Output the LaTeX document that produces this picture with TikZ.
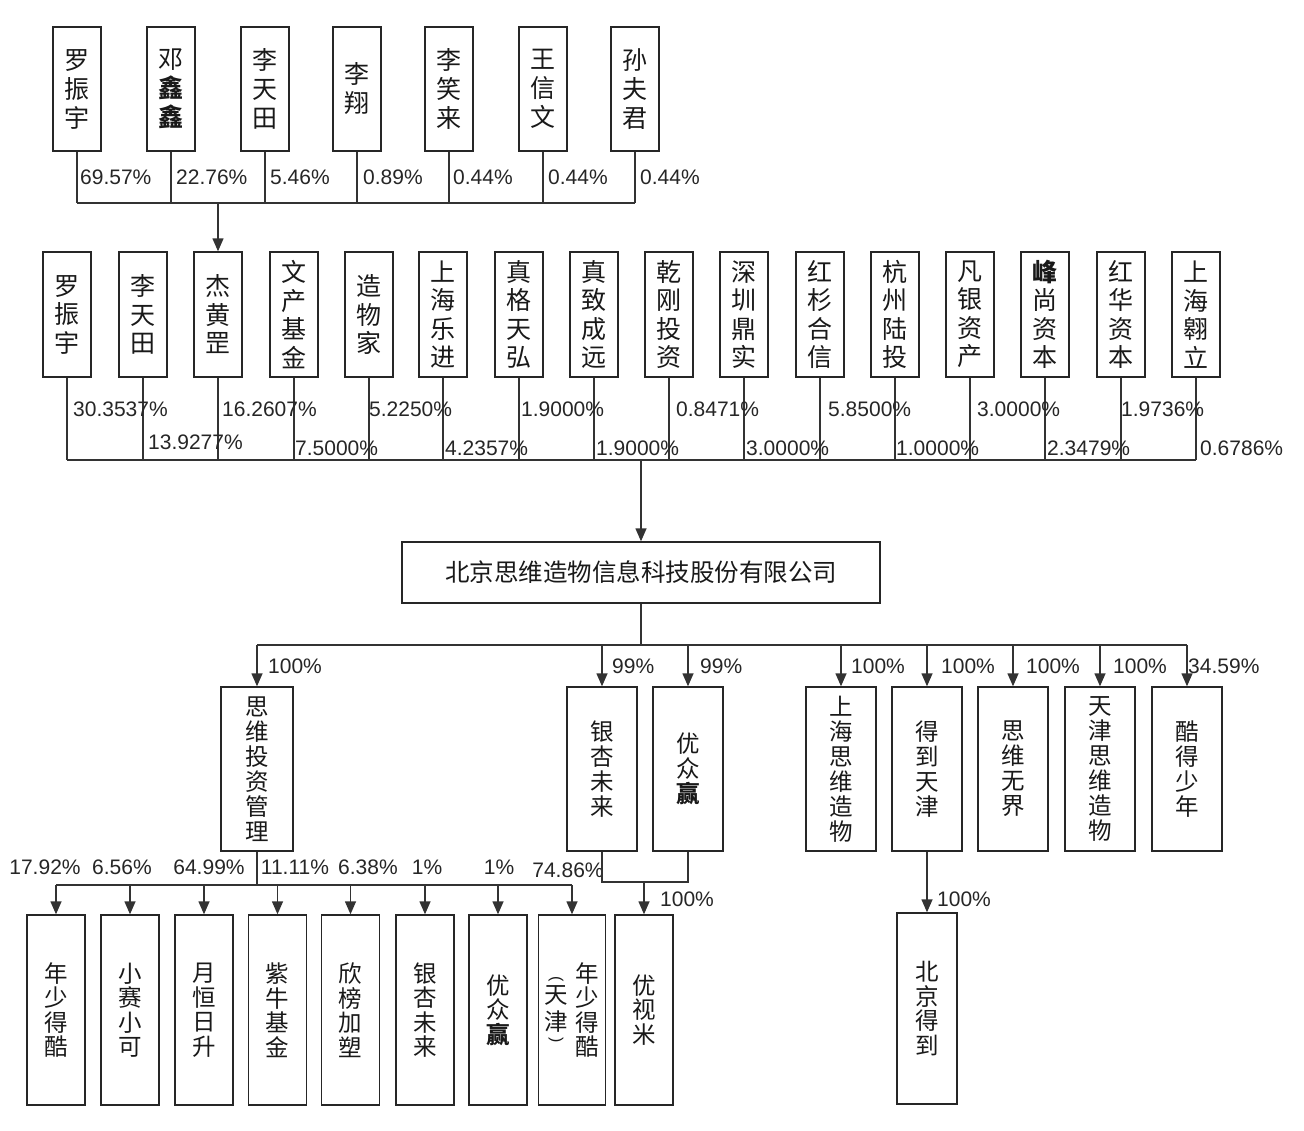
\documentclass[tikz,border=0pt]{standalone}
\usepackage{graphicx}
\usepackage{fontspec}
\setmainfont{Liberation Sans}
\newfontfamily\cjk{Noto Sans CJK SC}
\usetikzlibrary{arrows.meta}
\begin{document}
\begin{tikzpicture}[x=1pt,y=-1pt,
  box/.style={draw=black!85,line width=1.4pt,inner sep=0pt,align=center,fill=white,text=black!90},
  toprow/.style={box,minimum width=48pt,minimum height=124pt,font=\cjk\fontsize{25}{29}\selectfont},
  midrow/.style={box,minimum width=48pt,minimum height=125pt,font=\cjk\fontsize{25}{28.5}\selectfont},
  subrow/.style={box,minimum width=70pt,minimum height=164pt,font=\cjk\fontsize{23.5}{25}\selectfont},
  lowrow/.style={box,minimum width=58pt,minimum height=190pt,font=\cjk\fontsize{23.5}{24.5}\selectfont},
  vtxt/.style={inner sep=0pt,align=center,text=black!90,font=\cjk\fontsize{23.5}{24.5}\selectfont},
  paren/.style={inner sep=0pt,text=black!90,font=\fontsize{16}{16}\selectfont},
  conn/.style={draw=black!80,line width=1.4pt},
  arr/.style={conn,-{Triangle[length=13pt,width=11pt]}},
  pct/.style={font=\fontsize{21}{21}\selectfont,inner sep=0pt,anchor=west,text=black!85},
  pctc/.style={pct,anchor=center},
]
\useasboundingbox[fill=white] (0,0) rectangle (1304,1130);

% ---------- top row ----------
\node[toprow] (t1) at (77,89) {罗\\振\\宇};
\node[toprow] (t2) at (171,89) {邓\\\textbf{鑫}\\\textbf{鑫}};
\node[toprow] (t3) at (265,89) {李\\天\\田};
\node[toprow] (t4) at (357,89) {李\\翔};
\node[toprow] (t5) at (449,89) {李\\笑\\来};
\node[toprow] (t6) at (543,89) {王\\信\\文};
\node[toprow] (t7) at (635,89) {孙\\夫\\君};
\coordinate (tb) at (0,203);
\foreach \n in {t1,t2,t3,t4,t5,t6,t7} \draw[conn] (\n.south) -- (\n.south |- tb);
\draw[conn] (t1.south |- tb) -- (t7.south |- tb);
\node[pct] (p1) at (80,177) {69.57\%};
\node[pct] (p2) at (176,177) {22.76\%};
\node[pct] (p3) at (270,177) {5.46\%};
\node[pct] (p4) at (363,177) {0.89\%};
\node[pct] (p5) at (453,177) {0.44\%};
\node[pct] (p6) at (548,177) {0.44\%};
\node[pct] (p7) at (640,177) {0.44\%};

% ---------- second row ----------
\node[midrow] (s1) at (67,314.5) {罗\\振\\宇};
\node[midrow] (s2) at (143,314.5) {李\\天\\田};
\node[midrow] (s3) at (218,314.5) {杰\\黄\\罡};
\node[midrow] (s4) at (294,314.5) {文\\产\\基\\金};
\node[midrow] (s5) at (369,314.5) {造\\物\\家};
\node[midrow] (s6) at (443,314.5) {上\\海\\乐\\进};
\node[midrow] (s7) at (519,314.5) {真\\格\\天\\弘};
\node[midrow] (s8) at (594,314.5) {真\\致\\成\\远};
\node[midrow] (s9) at (669,314.5) {乾\\刚\\投\\资};
\node[midrow] (s10) at (744,314.5) {深\\圳\\鼎\\实};
\node[midrow] (s11) at (820,314.5) {红\\杉\\合\\信};
\node[midrow] (s12) at (895,314.5) {杭\\州\\陆\\投};
\node[midrow] (s13) at (970,314.5) {凡\\银\\资\\产};
\node[midrow] (s14) at (1045,314.5) {\textbf{峰}\\尚\\资\\本};
\node[midrow] (s15) at (1121,314.5) {红\\华\\资\\本};
\node[midrow] (s16) at (1196,314.5) {上\\海\\翱\\立};
\draw[arr] (s3.north |- tb) -- (s3.north);

\coordinate (sb) at (0,460);
\foreach \n in {s1,s2,s3,s4,s5,s6,s7,s8,s9,s10,s11,s12,s13,s14,s15,s16} \draw[conn] (\n.south) -- (\n.south |- sb);
\draw[conn] (s1.south |- sb) -- (s16.south |- sb);
\node[pct] (q1) at (73,409) {30.3537\%};
\node[pct] (q2) at (148,442) {13.9277\%};
\node[pct] (q3) at (222,409) {16.2607\%};
\node[pct] (q4) at (295,448) {7.5000\%};
\node[pct] (q5) at (369,409) {5.2250\%};
\node[pct] (q6) at (445,448) {4.2357\%};
\node[pct] (q7) at (521,409) {1.9000\%};
\node[pct] (q8) at (596,448) {1.9000\%};
\node[pct] (q9) at (676,409) {0.8471\%};
\node[pct] (q10) at (746,448) {3.0000\%};
\node[pct] (q11) at (828,409) {5.8500\%};
\node[pct] (q12) at (896,448) {1.0000\%};
\node[pct] (q13) at (977,409) {3.0000\%};
\node[pct] (q14) at (1047,448) {2.3479\%};
\node[pct] (q15) at (1121,409) {1.9736\%};
\node[pct] (q16) at (1200,448) {0.6786\%};

% ---------- main company ----------
\node[box,minimum width=478pt,minimum height=61pt,font=\cjk\fontsize{24.5}{26}\selectfont] (main) at (641,572.5) {北京思维造物信息科技股份有限公司};
\draw[arr] (main.north |- sb) -- (main.north);

% ---------- third row ----------
\node[subrow,minimum width=72pt] (c1) at (257,769) {思\\维\\投\\资\\管\\理};
\node[subrow] (c2) at (602,769) {银\\杏\\未\\来};
\node[subrow] (c3) at (688,769) {优\\众\\\textbf{赢}};
\node[subrow] (c4) at (841,769) {上\\海\\思\\维\\造\\物};
\node[subrow] (c5) at (927,769) {得\\到\\天\\津};
\node[subrow] (c6) at (1013,769) {思\\维\\无\\界};
\node[subrow] (c7) at (1100,769) {天\\津\\思\\维\\造\\物};
\node[subrow] (c8) at (1187,769) {酷\\得\\少\\年};
\coordinate (cb) at (0,645);
\draw[conn] (main.south) -- (main.south |- cb);
\draw[conn] (c1.north |- cb) -- (c8.north |- cb);
\foreach \n in {c1,c2,c3,c4,c5,c6,c7,c8} \draw[arr] (\n.north |- cb) -- (\n.north);
\node[pct] (r1) at (268,666) {100\%};
\node[pct] (r2) at (612,666) {99\%};
\node[pct] (r3) at (700,666) {99\%};
\node[pct] (r4) at (851,666) {100\%};
\node[pct] (r5) at (941,666) {100\%};
\node[pct] (r6) at (1026,666) {100\%};
\node[pct] (r7) at (1113,666) {100\%};
\node[pct] (r8) at (1188,666) {34.59\%};

% ---------- fourth row ----------
\node[lowrow] (d1) at (56,1010) {年\\少\\得\\酷};
\node[lowrow] (d2) at (130,1010) {小\\赛\\小\\可};
\node[lowrow] (d3) at (204,1010) {月\\恒\\日\\升};
\node[lowrow] (d4) at (277.5,1010) {紫\\牛\\基\\金};
\node[lowrow] (d5) at (350.5,1010) {欣\\榜\\加\\塑};
\node[lowrow] (d6) at (425,1010) {银\\杏\\未\\来};
\node[lowrow] (d7) at (498,1010) {优\\众\\\textbf{赢}};
\node[lowrow,minimum width=67pt] (d8) at (572,1010) {};
\node[vtxt] (d8a) at (587,1010) {年\\少\\得\\酷};
\node[vtxt,font=\cjk\fontsize{23.5}{27}\selectfont] (d8b) at (556,1008.5) {天\\津};
\node[paren] (d8c) at (556,979) {\rotatebox{-90}{(}};
\node[paren] (d8d) at (556,1040) {\rotatebox{-90}{)}};
\node[lowrow] (d9) at (644,1010) {优\\视\\米};
\node[lowrow,minimum width=60pt,minimum height=191pt] (e1) at (927,1008.5) {北\\京\\得\\到};

\coordinate (db) at (0,885);
\draw[conn] (c1.south) -- (c1.south |- db);
\draw[conn] (d1.north |- db) -- (d8.north |- db);
\foreach \n in {d1,d2,d3,d4,d5,d6,d7,d8} \draw[arr] (\n.north |- db) -- (\n.north);
\node[pctc] (u1) at (45,867) {17.92\%};
\node[pctc] (u2) at (122,867) {6.56\%};
\node[pctc] (u3) at (209,867) {64.99\%};
\node[pctc] (u4) at (295,867) {11.11\%};
\node[pctc] (u5) at (368,867) {6.38\%};
\node[pctc] (u6) at (427,867) {1\%};
\node[pctc] (u7) at (499,867) {1\%};
\node[pctc] (u8) at (568,870) {74.86\%};

\coordinate (yb) at (0,882);
\draw[conn] (c2.south) -- (c2.south |- yb) -- (c3.south |- yb) -- (c3.south);
\draw[arr] (d9.north |- yb) -- (d9.north);
\node[pct] (v1) at (660,899) {100\%};

\draw[arr] (c5.south) -- (e1.north);
\node[pct] (v2) at (937,899) {100\%};
\end{tikzpicture}
\end{document}
